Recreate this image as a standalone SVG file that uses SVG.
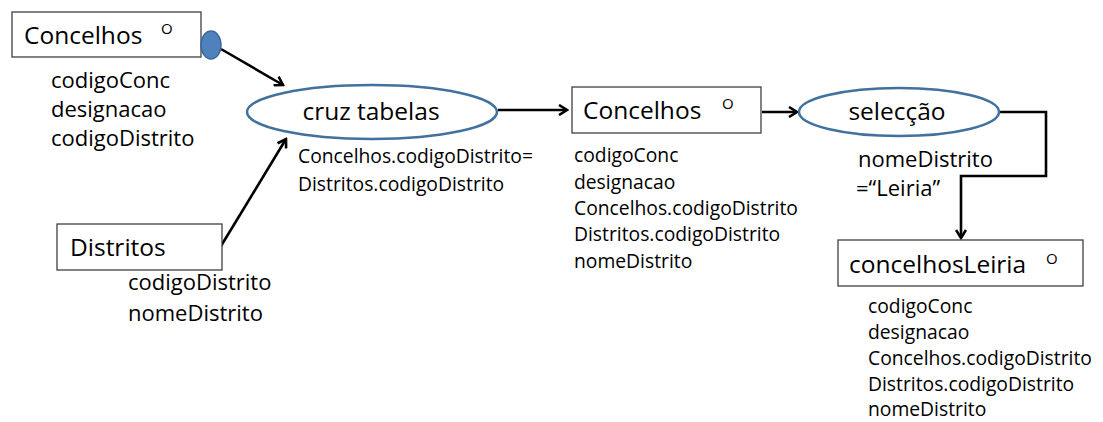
<svg xmlns="http://www.w3.org/2000/svg" width="1103" height="422" viewBox="0 0 1103 422">
<style>
.box{fill:#fff;stroke:#404040;stroke-width:1.3}
.ell{fill:#fff;stroke:#41719c;stroke-width:2.5}
.t{font-family:"Open Sans","Liberation Sans",sans-serif;fill:#000}
.big{font-size:24.5px}
.mid{font-size:22px}
.sm{font-size:19.3px}
.sup{font-size:15px}
.c{stroke:#000;stroke-width:2.6;fill:none}
</style>
<defs>
<marker id="ah" viewBox="0 0 12 12" refX="10" refY="6" markerWidth="12" markerHeight="12" markerUnits="userSpaceOnUse" orient="auto">
<polyline points="2,1 10,6 2,11" fill="none" stroke="#000" stroke-width="2.6"/>
</marker>
</defs>
<rect width="1103" height="422" fill="#fff"/>
<g id="connectors">
<line class="c" x1="221" y1="49" x2="283" y2="85" marker-end="url(#ah)"/>
<line class="c" x1="221" y1="246" x2="286" y2="139" marker-end="url(#ah)"/>
<line class="c" x1="498" y1="110" x2="567" y2="110" marker-end="url(#ah)"/>
<line class="c" x1="762" y1="112" x2="797" y2="112" marker-end="url(#ah)"/>
<polyline class="c" points="998,112 1046,112 1046,176 961,176 961,238" marker-end="url(#ah)"/>
</g>
<g id="concelhos1">
<rect class="box" x="12" y="12" width="189" height="45"/>
<text class="t big" x="24" y="44">Concelhos</text>
<text class="t sup" x="161" y="34">O</text>
<ellipse cx="211" cy="45" rx="10" ry="14" fill="#4f81bd" stroke="#3a6a9c" stroke-width="1.5"/>
<text class="t mid" x="51" y="88">codigoConc</text>
<text class="t mid" x="51" y="117">designacao</text>
<text class="t mid" x="51" y="146">codigoDistrito</text>
</g>
<g id="cruz">
<ellipse class="ell" cx="372" cy="112" rx="125" ry="27"/>
<text class="t big" x="371" y="120" text-anchor="middle">cruz tabelas</text>
<text class="t sm" x="298" y="163">Concelhos.codigoDistrito=</text>
<text class="t sm" x="298" y="191">Distritos.codigoDistrito</text>
</g>
<g id="distritos">
<rect class="box" x="57" y="224" width="165" height="46"/>
<text class="t big" x="70" y="256">Distritos</text>
<text class="t mid" x="128" y="290">codigoDistrito</text>
<text class="t mid" x="128" y="321">nomeDistrito</text>
</g>
<g id="concelhos2">
<rect class="box" x="572" y="87" width="189" height="46"/>
<text class="t big" x="583" y="119">Concelhos</text>
<text class="t sup" x="722" y="109">O</text>
<text class="t sm" x="574" y="162">codigoConc</text>
<text class="t sm" x="574" y="189">designacao</text>
<text class="t sm" x="574" y="215">Concelhos.codigoDistrito</text>
<text class="t sm" x="574" y="241">Distritos.codigoDistrito</text>
<text class="t sm" x="574" y="268">nomeDistrito</text>
</g>
<g id="seleccao">
<ellipse class="ell" cx="899" cy="112" rx="100" ry="24"/>
<text class="t big" x="897" y="120" text-anchor="middle">selecção</text>
<text class="t mid" x="858" y="167">nomeDistrito</text>
<text class="t mid" x="856" y="196">=“Leiria”</text>
</g>
<g id="concelhosLeiria">
<rect class="box" x="838" y="240" width="245" height="46"/>
<text class="t big" x="849" y="273">concelhosLeiria</text>
<text class="t sup" x="1046" y="264">O</text>
<text class="t sm" x="868" y="313">codigoConc</text>
<text class="t sm" x="868" y="339">designacao</text>
<text class="t sm" x="868" y="365">Concelhos.codigoDistrito</text>
<text class="t sm" x="868" y="391">Distritos.codigoDistrito</text>
<text class="t sm" x="868" y="416">nomeDistrito</text>
</g>
</svg>
